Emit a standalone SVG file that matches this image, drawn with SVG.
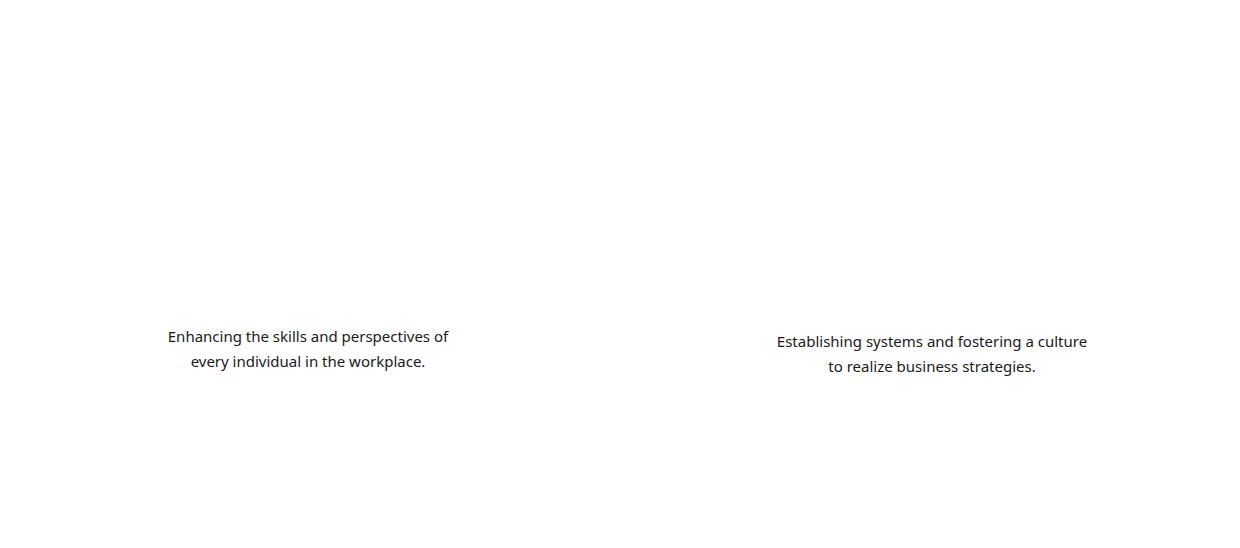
<svg xmlns="http://www.w3.org/2000/svg" width="1240" height="548" viewBox="0 0 1240 548">
<style>
.t{font-family:"Noto Sans","Open Sans",sans-serif;font-size:15px;fill:#1a1a1a;text-anchor:middle}
</style>
<rect width="1240" height="548" fill="#ffffff"/>
<g id="node-left">
<text class="t" x="308" y="342">Enhancing the skills and perspectives of</text>
<text class="t" x="308" y="367">every individual in the workplace.</text>
</g>
<g id="node-right">
<text class="t" x="932" y="347">Establishing systems and fostering a culture</text>
<text class="t" x="932" y="372">to realize business strategies.</text>
</g>
<g id="connectors"></g>
</svg>
